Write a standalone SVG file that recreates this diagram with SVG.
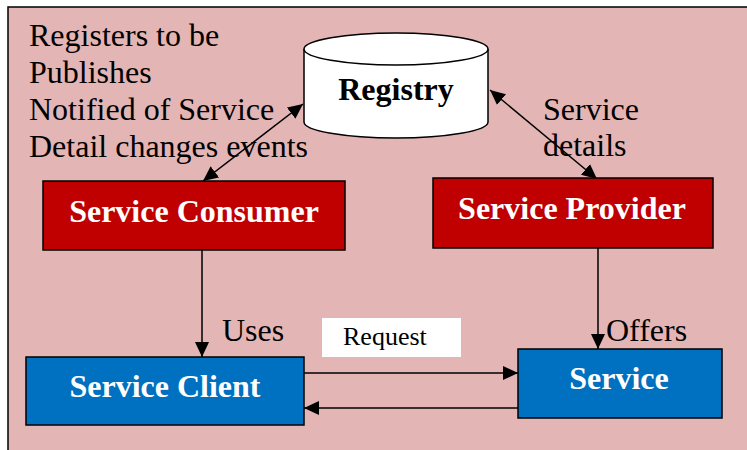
<svg xmlns="http://www.w3.org/2000/svg" width="747" height="450" viewBox="0 0 747 450">
<style>
.t{font-family:"Liberation Serif","Times New Roman",serif;fill:#000;font-size:32px;}
.b{font-family:"Liberation Serif","Times New Roman",serif;font-weight:bold;fill:#fff;text-anchor:middle;font-size:32px;}
.box{stroke:#000;stroke-width:1.5;}
.red{fill:#C00000;}
.blue{fill:#0070C0;}
.ln{stroke:#000;stroke-width:1.5;fill:none;}
</style>
<defs>
<marker id="ah" viewBox="0 0 15 14" refX="15" refY="7" markerWidth="15" markerHeight="14" markerUnits="userSpaceOnUse" orient="auto-start-reverse">
<path d="M0,0 L15,7 L0,14 Z" fill="#000"/>
</marker>
</defs>
<rect x="0" y="0" width="747" height="450" fill="#fff"/>
<rect x="8" y="7" width="760" height="460" fill="#E3B5B5" stroke="#000" stroke-width="1.5"/>
<g id="notes">
<text class="t" x="29" y="46">Registers to be</text>
<text class="t" x="29" y="83">Publishes</text>
<text class="t" x="29" y="120">Notified of Service</text>
<text class="t" x="29" y="157">Detail changes events</text>
</g>
<g id="connectors">
<line class="ln" x1="303" y1="104" x2="203" y2="181" marker-start="url(#ah)" marker-end="url(#ah)"/>
<line class="ln" x1="490" y1="90" x2="597" y2="179" marker-start="url(#ah)" marker-end="url(#ah)"/>
<line class="ln" x1="202" y1="250" x2="202" y2="357" marker-end="url(#ah)"/>
<line class="ln" x1="598" y1="248" x2="598" y2="349" marker-end="url(#ah)"/>
<line class="ln" x1="304" y1="373" x2="518" y2="373" marker-end="url(#ah)"/>
<line class="ln" x1="518" y1="408" x2="304" y2="408" marker-end="url(#ah)"/>
<text class="t" x="543" y="120">Service</text>
<text class="t" x="543" y="156">details</text>
<text class="t" x="222" y="341">Uses</text>
<text class="t" x="606" y="341">Offers</text>
<rect x="322" y="318" width="139" height="39" fill="#fff"/>
<text class="t" x="343" y="345" style="font-size:26px">Request</text>
</g>
<g id="registry">
<path d="M304,49 L304,122 A92,16 0 0 0 488,122 L488,49" fill="#fff" stroke="#000" stroke-width="1.5"/>
<ellipse cx="396" cy="49" rx="92" ry="16" fill="#fff" stroke="#000" stroke-width="1.5"/>
<text class="t" x="396" y="100" font-weight="bold" text-anchor="middle">Registry</text>
</g>
<g id="service-consumer">
<rect class="box red" x="43" y="181" width="302" height="69"/>
<text class="b" x="194" y="222">Service Consumer</text>
</g>
<g id="service-provider">
<rect class="box red" x="433" y="178" width="280" height="70"/>
<text class="b" x="572" y="219">Service Provider</text>
</g>
<g id="service-client">
<rect class="box blue" x="26" y="357" width="278" height="68"/>
<text class="b" x="165" y="397">Service Client</text>
</g>
<g id="service">
<rect class="box blue" x="518" y="349" width="204" height="69"/>
<text class="b" x="619" y="389">Service</text>
</g>
</svg>
